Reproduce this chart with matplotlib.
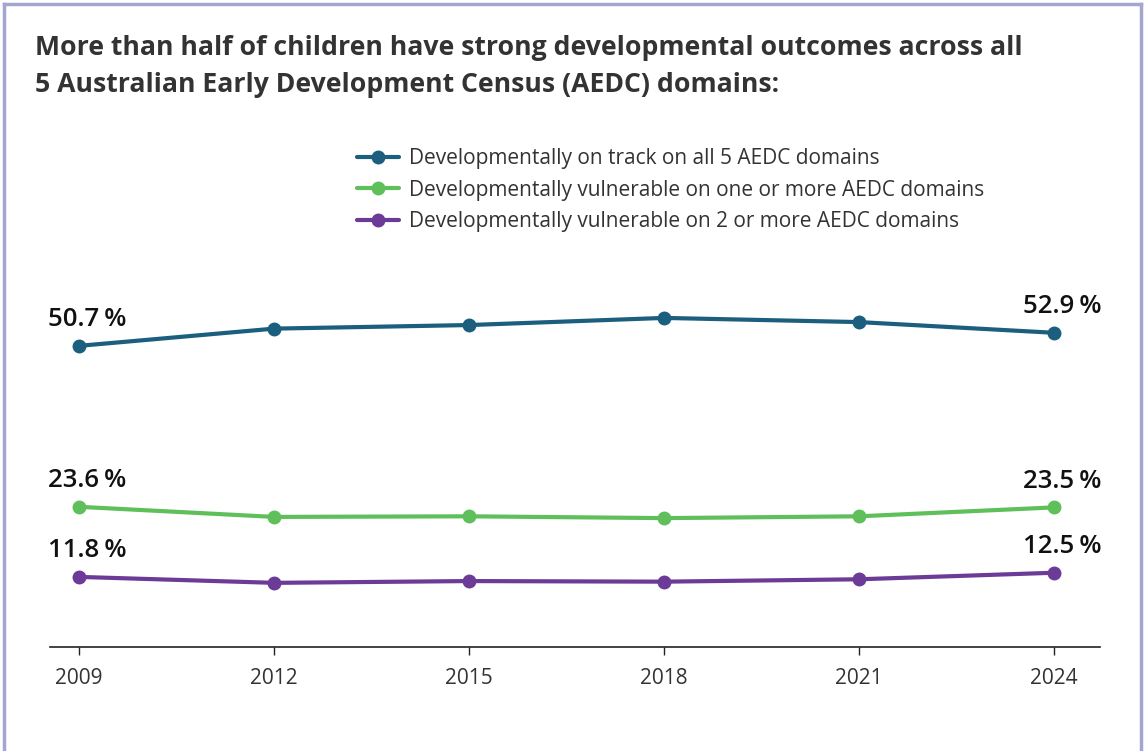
import matplotlib.pyplot as plt
from matplotlib.lines import Line2D

years = [2009, 2012, 2015, 2018, 2021, 2024]
on_track = [50.7, 53.6, 54.2, 55.4, 54.7, 52.9]
vuln_one = [23.6, 21.9, 22.0, 21.7, 22.0, 23.5]
vuln_two = [11.8, 10.8, 11.1, 11.0, 11.4, 12.5]
series_names = [
    "Developmentally on track on all 5 AEDC domains",
    "Developmentally vulnerable on one or more AEDC domains",
    "Developmentally vulnerable on 2 or more AEDC domains",
]
colors = ["#1b5e7e", "#5fbf5b", "#6c3a97"]

plt.rcParams["font.family"] = ["Open Sans", "DejaVu Sans"]

W, H = 1145, 751
fig = plt.figure(figsize=(W / 100, H / 100), dpi=100)
fig.patch.set_facecolor("white")

# page frame (left, top, right)
border = "#a3a7cf"
fig.add_artist(Line2D([3.5 / W, 3.5 / W], [0, 1 - 3.5 / H], color=border, lw=2.5))
fig.add_artist(Line2D([3.5 / W, 1 - 4.5 / W], [1 - 3.5 / H, 1 - 3.5 / H], color=border, lw=2.5))
fig.add_artist(Line2D([1 - 4.5 / W, 1 - 4.5 / W], [0, 1 - 3.5 / H], color=border, lw=2.5))

fig.text(35 / W, 1 - 48 / H,
         "More than half of children have strong developmental outcomes across all",
         fontsize=19.2, fontweight="bold", color="#333333", va="center")
fig.text(35 / W, 1 - 85 / H,
         "5 Australian Early Development Census (AEDC) domains:",
         fontsize=19.2, fontweight="bold", color="#333333", va="center")

ax_l, ax_r, ax_b, ax_t = 50, 1100, 647, 300
ax = fig.add_axes([ax_l / W, 1 - ax_b / H, (ax_r - ax_l) / W, (ax_b - ax_t) / H])
ax.set_xlim(2008.55, 2024.71)
ax.set_ylim(0, (ax_b - ax_t) / 5.94)

for vals, name, c in zip([on_track, vuln_one, vuln_two], series_names, colors):
    ax.plot(years, vals, color=c, lw=3, marker="o", markersize=9, label=name,
            solid_capstyle="round")
    for i in (0, len(years) - 1):
        ax.annotate(f"{vals[i]:.1f}\u2009%", (years[i], vals[i]), xytext=(6, 19),
                    textcoords="offset points", ha="center", va="center",
                    fontsize=18.5, fontweight="semibold", color="#111111")

for s in ["top", "right", "left"]:
    ax.spines[s].set_visible(False)
ax.spines["bottom"].set_color("#222222")
ax.spines["bottom"].set_linewidth(1.2)
ax.set_yticks([])
ax.set_xticks(years)
ax.set_xticklabels([str(y) for y in years])
ax.tick_params(axis="x", direction="out", length=6, width=1, color="#222222",
               labelsize=15, labelcolor="#333333", pad=9)

leg = fig.legend(loc="upper left", bbox_to_anchor=(349 / W, 1 - 140 / H),
                 frameon=False, fontsize=15, handlelength=2.0, labelspacing=0.5,
                 handletextpad=0.5, borderaxespad=0)
for t in leg.get_texts():
    t.set_color("#333333")

fig.savefig("out.png", dpi=100)
